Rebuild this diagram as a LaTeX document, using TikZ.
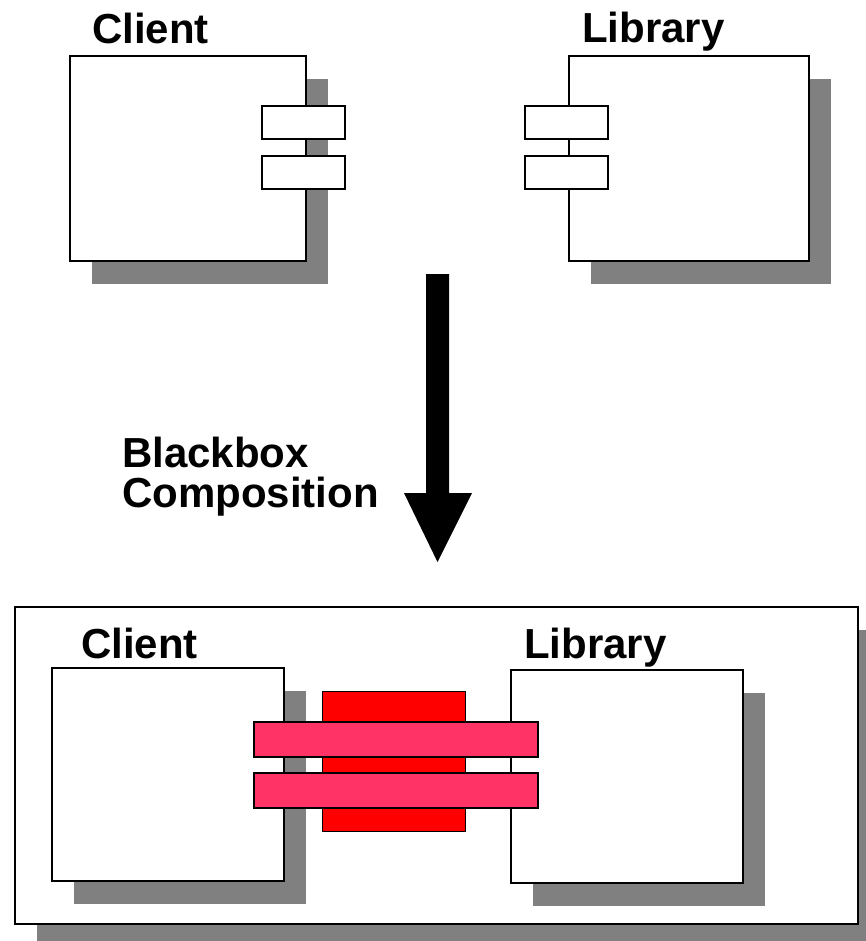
\documentclass[tikz,border=0pt]{standalone}
\usepackage{fontspec}
\setmainfont{Liberation Sans}
\usetikzlibrary{shadows}
\definecolor{shade}{HTML}{808080}
\definecolor{plug}{HTML}{FF3366}
\definecolor{socket}{HTML}{FF0000}
\begin{document}
\begin{tikzpicture}[x=1pt,y=-1pt,
  shadowed/.style={drop shadow={shadow xshift=22pt,shadow yshift=-23pt,fill=shade,opacity=1}},
  comp/.style={draw=black,line width=1.9pt,fill=white,anchor=north west,inner sep=0pt,shadowed},
  port/.style={draw=black,line width=1.6pt,fill=white,anchor=north west,inner sep=0pt,
    minimum width=83pt,minimum height=33pt},
  bar/.style={draw=black,line width=1.6pt,fill=plug,anchor=north west,inner sep=0pt,
    minimum width=284pt,minimum height=35pt},
  title/.style={font=\bfseries\fontsize{42}{40}\selectfont,anchor=base west,inner sep=0pt}]
\useasboundingbox (0,0) rectangle (866,941);

% before composition: separate components with their interfaces
\node[comp,minimum width=236pt,minimum height=205pt] (client) at (69,55) {};
\node[port] (cp1) at (261,105) {};
\node[port] (cp2) at (261,155) {};
\node[title] (clientlbl) at (92,44) {Client};

\node[comp,minimum width=240pt,minimum height=205pt] (lib) at (568,55) {};
\node[port] (lp1) at (524,105) {};
\node[port] (lp2) at (524,155) {};
\node[title] (liblbl) at (582,43) {Library};

% composition step
\fill[black] (426,274) -- (449,274) -- (449,493) -- (472,493) -- (437.5,562)
  -- (404,493) -- (426,493) -- cycle;
\node[title] (bb1) at (122,467) {Blackbox};
\node[title] (bb2) at (122,507) {Composition};

% after composition: one enclosing unit
\node[comp,minimum width=843pt,minimum height=317pt] (whole) at (14,606) {};
\node[comp,minimum width=232pt,minimum height=213pt] (client2) at (51,667) {};
\node[title] (clientlbl2) at (81,658) {Client};
\node[comp,minimum width=232pt,minimum height=213pt] (lib2) at (510,669) {};
\node[title] (liblbl2) at (524,658) {Library};
\node[draw=black,line width=1.4pt,fill=socket,anchor=north west,inner sep=0pt,
  minimum width=143pt,minimum height=140pt] (glue) at (322,691) {};
\node[bar] (bar1) at (253,721) {};
\node[bar] (bar2) at (253,772) {};
\end{tikzpicture}
\end{document}
